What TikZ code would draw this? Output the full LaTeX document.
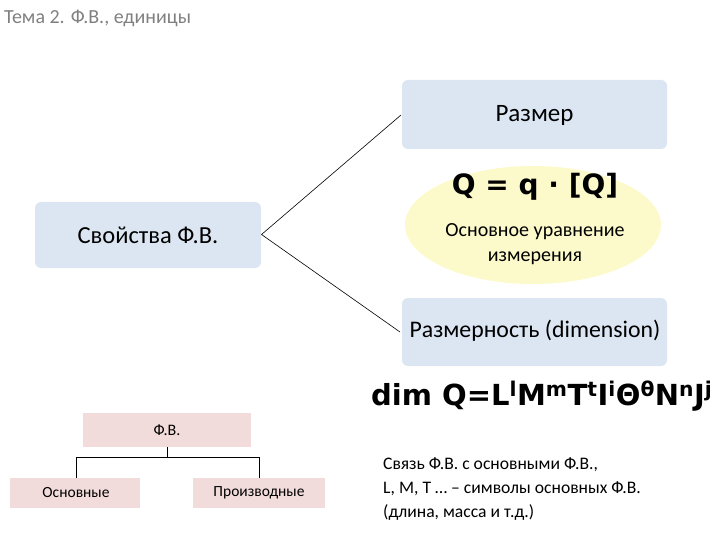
\documentclass[tikz,border=0pt]{standalone}
\usepackage{fontspec}
\setmainfont{Carlito}
\newfontfamily\dvs{DejaVu Sans}
\usetikzlibrary{shapes.geometric}
\definecolor{boxblue}{HTML}{DCE6F2}
\definecolor{boxpink}{HTML}{F2DCDB}
\definecolor{elly}{HTML}{FCFACA}
\definecolor{titlegray}{HTML}{808080}
\pgfdeclareradialshading{ellfade}{\pgfpoint{0bp}{0bp}}{color(0bp)=(elly); color(44bp)=(elly); color(48bp)=(elly!60!white); color(50bp)=(white)}
\tikzset{
  bluebox/.style={fill=boxblue, rounded corners=6pt, draw=none},
  pinkbox/.style={fill=boxpink, draw=none},
  conn/.style={draw=black, line width=0.6pt},
}
\begin{document}
\begin{tikzpicture}[x=1pt,y=-1pt]
\useasboundingbox (0,0) rectangle (720,540);
% title
\node[anchor=west, text=titlegray, font=\fontsize{20}{22}\selectfont, inner sep=0] (title) at (4,18) {Тема 2. Ф.В., единицы};
% boxes
\fill[bluebox] (402,80) rectangle (667,149);
\node (razmer) at (534.5,115) {\fontsize{25}{28}\selectfont Размер};
\coordinate (razmerL) at (401,115);
% ellipse
\shade[shading=ellfade] (533,225) ellipse [x radius=128, y radius=59];
\node (eq) at (535,187) {\dvs\bfseries\fontsize{28}{30}\selectfont Q = q · [Q]};
\node[align=center, font=\fontsize{20}{25}\selectfont] (eqtext) at (535,244) {Основное уравнение\\измерения};
% svoistva
\fill[bluebox] (35,202) rectangle (261,268);
\node (svoistva) at (148,235) {\fontsize{24.5}{28}\selectfont Свойства Ф.В.};
\coordinate (svR) at (261.5,234.5);
% razmernost
\fill[bluebox] (402,298) rectangle (667,366);
\node (razmernost) at (535,331) {\fontsize{23.8}{28}\selectfont Размерность (dimension)};
\coordinate (rnL) at (400,332);
\draw[conn] (razmerL) -- (svR) -- (rnL);
% dim formula
\node[anchor=west, inner sep=0] (dim) at (371,396) {\dvs\bfseries\fontsize{29}{32}\selectfont dim Q=L\textsuperscript{l}M\textsuperscript{m}T\textsuperscript{t}I\textsuperscript{i}Θ\textsuperscript{θ}N\textsuperscript{n}J\textsuperscript{j}};
% tree
\fill[pinkbox] (83,413) rectangle (251,447);
\node (fv) at (167,430) {\fontsize{16}{18}\selectfont Ф.В.};
\fill[pinkbox] (10,478) rectangle (140,508);
\node (osn) at (76,493) {\fontsize{15.5}{18}\selectfont Основные};
\fill[pinkbox] (193,478) rectangle (325,508);
\node (proiz) at (259,493) {\fontsize{15.5}{18}\selectfont Производные};
\coordinate (fvB) at (167,447);
\coordinate (osnT) at (76,478);
\coordinate (proizT) at (259,478);
\draw[conn] (fvB) -- (167,457) -| (osnT);
\draw[conn] (167,457) -| (proizT);
% bottom text
\node[anchor=north west, align=left, inner sep=0, font=\fontsize{17.6}{24}\selectfont] (note) at (383,457) {Связь Ф.В. с основными Ф.В.,\\L, M, T … – символы основных Ф.В.\\(длина, масса и т.д.)};
\end{tikzpicture}
\end{document}
